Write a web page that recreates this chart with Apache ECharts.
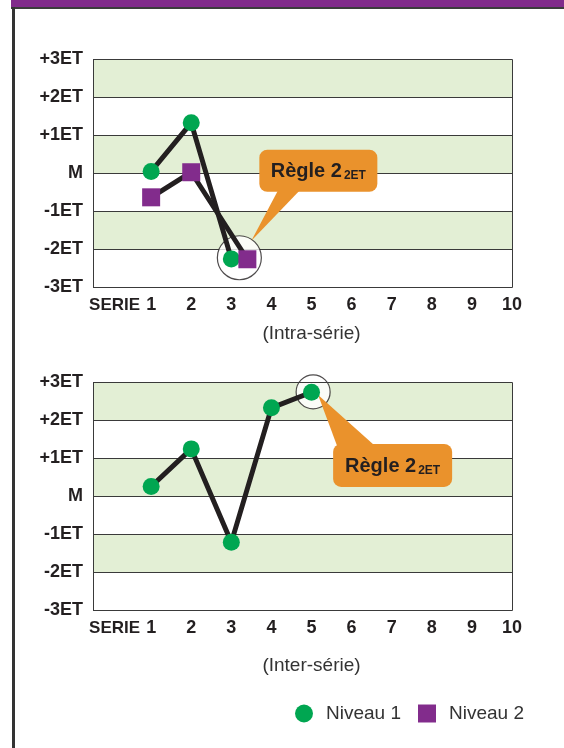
<!DOCTYPE html>
<html><head><meta charset="utf-8">
<script src="https://cdn.jsdelivr.net/npm/echarts@6/dist/echarts.min.js"></script>
<style>html,body{margin:0;padding:0;background:#fff}#c{width:564px;height:748px}</style>
</head><body><div id="c"></div>
<script>
// ---- data ----
const xTickValues = [1, 2, 3, 4, 5, 6, 7, 8, 9, 10];
const xPrefixTick = [1];
const xPrefixLabel = 'SERIE';
const yTickValues = [-3, -2, -1, 0, 1, 2, 3];
const yTickLabels = ['-3ET', '-2ET', '-1ET', 'M', '+1ET', '+2ET', '+3ET'];
const seriesNames = ['Niveau 1', 'Niveau 2'];
const intraNiveau1 = [[1, 0.04], [2, 1.32], [3, -2.26]];
const intraNiveau2 = [[1, -0.64], [2, 0.02], [3.4, -2.27]];
const interNiveau1 = [[1, 0.25], [2, 1.24], [3, -1.22], [4, 2.32], [5, 2.73]];
const intraFlag = [[3.2, -2.23]];
const interFlag = [[5.04, 2.74]];
const calloutMain = 'Règle 2';
const calloutSub = '2ET';
const axisTitles = ['(Intra-série)', '(Inter-série)'];

// ---- style ----
const GREEN = '#00a651', PURPLE = '#822c8c', ORANGE = '#ea922c', INK = '#231f20';
const BAND = '#e3efd5', GRIDLINE = '#3a3a3a';
const FONT = 'Liberation Sans, Arial, sans-serif';

const chart = echarts.init(document.getElementById('c'), null, {renderer: 'canvas'});

function xAxisCfg(gi, title, gap) {
  return {
    type: 'value', gridIndex: gi, min: -0.45, max: 10, position: 'bottom',
    axisLine: {show: false}, axisTick: {show: false}, splitLine: {show: false},
    axisLabel: {
      customValues: xTickValues, margin: 9,
      fontFamily: FONT, fontSize: 18, fontWeight: 'bold', color: INK
    },
    name: title, nameLocation: 'middle', nameGap: gap,
    nameTextStyle: {fontFamily: FONT, fontSize: 19, color: '#333', padding: [0, 0, 0, 18]}
  };
}
function xPrefixAxisCfg(gi) {
  return {
    type: 'value', gridIndex: gi, min: -0.45, max: 10, position: 'bottom', offset: 0,
    axisLine: {show: false}, axisTick: {show: false}, splitLine: {show: false},
    axisLabel: {
      customValues: xPrefixTick, margin: 10, align: 'right', padding: [0, 11, 0, 0],
      fontFamily: FONT, fontSize: 17, fontWeight: 'bold', color: INK,
      formatter: () => xPrefixLabel
    }
  };
}
function yAxisCfg(gi) {
  return {
    type: 'value', gridIndex: gi, min: -3, max: 3, interval: 1,
    axisLine: {show: false}, axisTick: {show: false},
    splitLine: {show: true, lineStyle: {color: GRIDLINE, width: 1}},
    splitArea: {show: true, areaStyle: {color: ['#ffffff', BAND]}},
    axisLabel: {
      margin: 10, fontFamily: FONT, fontSize: 18, fontWeight: 'bold', color: INK,
      formatter: v => yTickLabels[yTickValues.indexOf(v)]
    }
  };
}
function lineSeries(xi, name, data, symbol, size, color) {
  return {
    type: 'line', name, xAxisIndex: xi, yAxisIndex: xi, data,
    symbol, symbolSize: size, itemStyle: {color},
    lineStyle: {color: INK, width: 5}, z: 3, animation: false
  };
}
function flagSeries(xi, data, size) {
  return {
    type: 'scatter', xAxisIndex: xi, yAxisIndex: xi, data, symbol: 'circle', symbolSize: size,
    itemStyle: {color: '#ffffff', borderColor: INK, borderWidth: 1.2}, z: 1, silent: true, animation: false
  };
}
function calloutSeries(xi, data, L) {
  return {
    type: 'custom', xAxisIndex: xi, yAxisIndex: xi, data, z: 2, silent: true, animation: false,
    renderItem(params, api) {
      const p = api.coord([api.value(0), api.value(1)]);
      const bx = p[0] + L.box[0], by = p[1] + L.box[1];
      return {type: 'group', children: [
        {type: 'polygon', shape: {points: [
          [p[0] + L.tip[0], p[1] + L.tip[1]],
          [p[0] + L.base[0], p[1] + L.baseY],
          [p[0] + L.base[1], p[1] + L.baseY]]}, style: {fill: ORANGE}},
        {type: 'rect', shape: {x: bx, y: by, width: L.box[2], height: L.box[3], r: 8}, style: {fill: ORANGE}},
        {type: 'text', style: {
          x: bx + L.box[2] / 2, y: by + L.box[3] / 2, align: 'center', verticalAlign: 'middle',
          text: '{a|' + calloutMain + '}{b|' + calloutSub + '}',
          rich: {
            a: {fontFamily: FONT, fontSize: 20, fontWeight: 'bold', fill: INK, lineHeight: 22, verticalAlign: 'bottom'},
            b: {fontFamily: FONT, fontSize: 12, fontWeight: 'bold', fill: INK, lineHeight: 22, verticalAlign: 'bottom', padding: [0, 0, 0, 2]}
          }
        }}
      ]};
    }
  };
}

const option = {
  backgroundColor: '#ffffff',
  animation: false,
  grid: [
    {left: 93, top: 59, width: 419, height: 228},
    {left: 93, top: 382, width: 419, height: 228}
  ],
  xAxis: [xAxisCfg(0, axisTitles[0], 37), xAxisCfg(1, axisTitles[1], 46), xPrefixAxisCfg(0), xPrefixAxisCfg(1)],
  yAxis: [yAxisCfg(0), yAxisCfg(1)],
  legend: {
    left: 290, top: 699, itemWidth: 18, itemHeight: 18, itemGap: 17,
    textStyle: {fontFamily: FONT, fontSize: 19, color: '#333', padding: [0, 0, 0, 8]},
    data: [
      {name: seriesNames[0], icon: 'circle', itemStyle: {color: GREEN, borderWidth: 0}},
      {name: seriesNames[1], icon: 'rect', itemStyle: {color: PURPLE, borderWidth: 0}}
    ],
    selectedMode: false
  },
  graphic: [
    {type: 'rect', shape: {x: 11, y: 0, width: 553, height: 7.5}, style: {fill: '#812b8b'}, silent: true},
    {type: 'rect', shape: {x: 11, y: 7, width: 553, height: 2}, style: {fill: '#3c3c3c'}, silent: true},
    {type: 'rect', shape: {x: 12, y: 7, width: 3, height: 741}, style: {fill: '#333'}, silent: true},
    {type: 'rect', shape: {x: 93.5, y: 59.5, width: 419, height: 228}, style: {fill: 'none', stroke: GRIDLINE, lineWidth: 1}, silent: true, z: 5},
    {type: 'rect', shape: {x: 93.5, y: 382.5, width: 419, height: 228}, style: {fill: 'none', stroke: GRIDLINE, lineWidth: 1}, silent: true, z: 5}
  ],
  series: [
    flagSeries(0, intraFlag, 44),
    flagSeries(1, interFlag, 34),
    calloutSeries(0, intraFlag, {tip: [12, -17], base: [39, 61], baseY: -68, box: [20, -108, 118, 42]}),
    calloutSeries(1, interFlag, {tip: [5, 3], base: [24, 62], baseY: 54, box: [20, 52, 119, 43]}),
    lineSeries(0, seriesNames[0], intraNiveau1, 'circle', 17, GREEN),
    lineSeries(0, seriesNames[1], intraNiveau2, 'rect', 18, PURPLE),
    lineSeries(1, seriesNames[0], interNiveau1, 'circle', 17, GREEN)
  ]
};
chart.setOption(option);
</script>
</body></html>
